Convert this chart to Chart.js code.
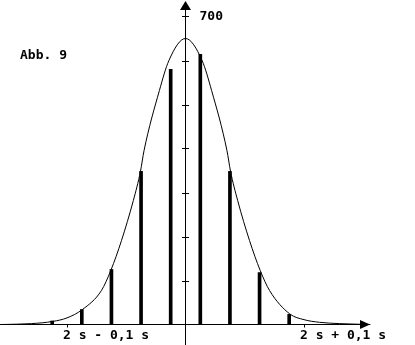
<!DOCTYPE html>
<html>
<head>
<meta charset="utf-8">
<script src="https://cdn.jsdelivr.net/npm/chart.js@4/dist/chart.umd.min.js"></script>
<style>
  html, body { margin: 0; padding: 0; background: #fff; }
  canvas { display: block; }
</style>
</head>
<body>
<canvas id="chart" width="415" height="345"></canvas>
<script>
// bar positions (s) and heights
const barX = [1.8875, 1.9125, 1.9375, 1.9625, 1.9875, 2.0125, 2.0375, 2.0625, 2.0875];
const barY = [8, 34, 125, 348, 580, 614, 348, 118, 23];

// bell curve
const curveX = [1.845, 1.870, 1.888, 1.900, 1.913, 1.929, 1.937, 1.946, 1.956, 1.962, 1.965, 1.978, 1.986, 2.000,
                2.014, 2.022, 2.035, 2.038, 2.044, 2.054, 2.063, 2.071, 2.088, 2.100, 2.113, 2.130, 2.156];
const curveY = [0, 2, 7, 15, 34, 77, 123, 191, 282, 348, 395, 532, 600, 650,
                600, 532, 395, 348, 282, 191, 123, 77, 24, 11, 5, 2, 0];

const yTicks = [100, 200, 300, 400, 500, 600, 700];
const yTickLabel = '700';
const xTickValues = [1.9, 2.1];
const xTickLabels = ['2 s - 0,1 s', '2 s + 0,1 s'];
const figLabel = 'Abb. 9';
const centerX = 2;

const FONT = 'bold 13px "DejaVu Sans Mono", monospace';

const axesPlugin = {
  id: 'axes',
  afterDatasetsDraw(chart) {
    const { ctx } = chart;
    const xs = chart.scales.x, ys = chart.scales.y;
    const ax = xs.getPixelForValue(centerX);
    const ay = ys.getPixelForValue(0);
    ctx.save();
    ctx.strokeStyle = '#000';
    ctx.fillStyle = '#000';
    ctx.lineWidth = 1;
    // y axis
    ctx.beginPath();
    ctx.moveTo(ax, chart.height);
    ctx.lineTo(ax, 10);
    ctx.stroke();
    ctx.beginPath();
    ctx.moveTo(ax, 1);
    ctx.lineTo(ax - 5.5, 10);
    ctx.lineTo(ax + 5.5, 10);
    ctx.closePath();
    ctx.fill();
    // x axis
    ctx.beginPath();
    ctx.moveTo(0, ay);
    ctx.lineTo(361, ay);
    ctx.stroke();
    ctx.beginPath();
    ctx.moveTo(370, ay);
    ctx.lineTo(360, ay - 4.5);
    ctx.lineTo(360, ay + 4.5);
    ctx.closePath();
    ctx.fill();
    // y ticks
    yTicks.forEach(v => {
      const py = Math.round(ys.getPixelForValue(v)) + 0.5;
      ctx.beginPath();
      ctx.moveTo(ax - 3.5, py);
      ctx.lineTo(ax + 3.5, py);
      ctx.stroke();
    });
    // x ticks
    xTickValues.forEach(v => {
      const px = Math.round(xs.getPixelForValue(v)) + 0.5;
      ctx.beginPath();
      ctx.moveTo(px, ay);
      ctx.lineTo(px, ay + 3);
      ctx.stroke();
    });
    // texts
    ctx.font = FONT;
    ctx.textBaseline = 'middle';
    ctx.textAlign = 'left';
    ctx.fillText(yTickLabel, ax + 14, ys.getPixelForValue(yTicks[yTicks.length - 1]));
    xTickValues.forEach((v, i) => {
      ctx.fillText(xTickLabels[i], xs.getPixelForValue(v) - 4, ay + 11);
    });
    ctx.fillText(figLabel, 20, 56);
    ctx.restore();
  }
};

const pxPerSec = 1185;
const pxPerUnit = 0.44;
const cx = 185.5, cy = 324.5;

new Chart(document.getElementById('chart'), {
  type: 'bar',
  data: {
    datasets: [
      {
        type: 'line',
        data: curveX.map((x, i) => ({ x, y: curveY[i] })),
        borderColor: '#000',
        borderWidth: 1,
        pointRadius: 0,
        cubicInterpolationMode: 'monotone',
        fill: false
      },
      {
        type: 'bar',
        data: barX.map((x, i) => ({ x, y: barY[i] })),
        backgroundColor: '#000',
        borderWidth: 0,
        barThickness: 3
      }
    ]
  },
  plugins: [axesPlugin],
  options: {
    responsive: false,
    animation: false,
    layout: { padding: 0 },
    plugins: { legend: { display: false }, tooltip: { enabled: false } },
    scales: {
      x: {
        type: 'linear',
        display: false,
        offset: false,
        min: centerX - cx / pxPerSec,
        max: centerX + (415 - cx) / pxPerSec
      },
      y: {
        display: false,
        min: -(345 - cy) / pxPerUnit,
        max: cy / pxPerUnit
      }
    }
  }
});
</script>
</body>
</html>
